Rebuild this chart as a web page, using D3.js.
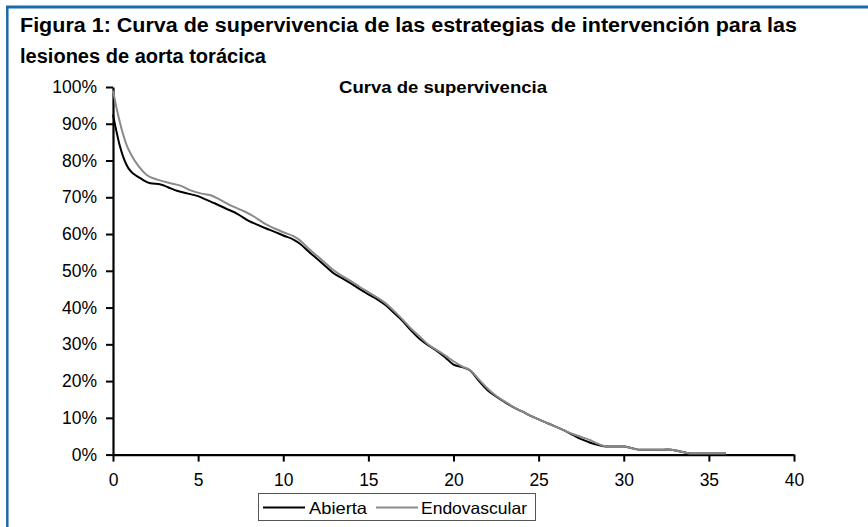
<!DOCTYPE html>
<html>
<head>
<meta charset="utf-8">
<script src="https://cdn.jsdelivr.net/npm/d3@7"></script>
<style>
  html, body { margin: 0; padding: 0; background: #fff; }
  svg { display: block; }
  text { font-family: "Liberation Sans", Arial, sans-serif; fill: #000; }
</style>
</head>
<body>
<svg id="chart" width="868" height="527"></svg>
<script>
// ---- Data ----
const titleLines = ["Figura 1: Curva de supervivencia de las estrategias de intervención para las", "lesiones de aorta torácica"];
const chartTitle = "Curva de supervivencia";
const seriesNames = ["Abierta", "Endovascular"];
const xTicks = [0, 5, 10, 15, 20, 25, 30, 35, 40];
const yTicks = [0, 10, 20, 30, 40, 50, 60, 70, 80, 90, 100];

const abiertaT = [0, 0.2, 0.4, 0.6, 0.8, 1.0, 1.2, 1.5, 1.8, 2.2, 2.8, 3.2, 3.8, 4.4, 5.0, 5.5, 6.0, 6.7, 7.3, 8.0, 8.5, 9.0, 9.5, 10.0, 10.6, 11.0, 11.5, 12.0, 12.5, 13.0, 13.5, 14.0, 14.5, 15.0, 15.5, 16.0, 16.5, 17.0, 17.5, 18.0, 18.5, 19.0, 19.5, 20.0, 20.5, 21.0, 21.5, 22.0, 22.5, 23.0, 23.5, 24.0, 24.5, 25.0, 25.5, 26.0, 26.5, 27.0, 27.5, 28.0, 28.5, 29.0, 29.5, 30.0, 30.5, 31.0, 32.0, 32.6, 33.2, 33.9, 36.0];
const abiertaV = [92.5, 88, 84, 81, 78.8, 77.3, 76.4, 75.5, 74.6, 73.8, 73.5, 72.8, 71.7, 71.0, 70.3, 69.3, 68.3, 66.8, 65.5, 63.5, 62.5, 61.5, 60.6, 59.6, 58.5, 57.3, 55.2, 53.2, 51.2, 49.2, 47.9, 46.5, 45.0, 43.6, 42.3, 40.7, 38.6, 36.4, 33.8, 31.5, 29.8, 28.3, 26.5, 24.5, 23.8, 22.8, 20.0, 17.5, 15.8, 14.3, 12.9, 11.8, 10.6, 9.6, 8.6, 7.6, 6.6, 5.4, 4.2, 3.3, 2.6, 2.2, 2.2, 2.2, 1.7, 1.3, 1.3, 1.4, 1.0, 0.3, 0.3];

const endoT = [0, 0.2, 0.4, 0.6, 0.8, 1.1, 1.5, 2.0, 2.6, 3.5, 4.0, 4.6, 5.2, 5.7, 6.3, 7.0, 7.7, 8.3, 9.0, 9.5, 10.0, 10.6, 11.0, 11.5, 12.0, 12.5, 13.0, 13.5, 14.0, 14.5, 15.0, 15.5, 16.0, 16.5, 17.0, 17.5, 18.0, 18.5, 19.0, 19.5, 20.0, 20.5, 21.0, 21.5, 22.0, 22.5, 23.0, 23.5, 24.0, 24.5, 25.0, 25.5, 26.0, 26.5, 27.0, 27.5, 28.0, 28.5, 29.0, 29.5, 30.0, 30.5, 31.0, 32.0, 32.6, 33.2, 33.9, 36.0];
const endoV = [99, 94.5, 90.5, 87, 84.2, 81.3, 78.5, 76.0, 74.8, 73.7, 73.1, 71.8, 71.0, 70.6, 69.3, 67.6, 66.2, 64.7, 62.6, 61.5, 60.5, 59.4, 58.2, 56.0, 54.0, 52.0, 50.0, 48.5, 47.1, 45.6, 44.2, 42.8, 41.2, 39.1, 36.8, 34.3, 32.2, 30.0, 28.5, 27.0, 25.4, 24.0, 22.9, 20.4, 18.0, 16.0, 14.5, 13.0, 11.8, 10.6, 9.6, 8.6, 7.6, 6.6, 5.6, 4.8, 4.0, 2.9, 2.2, 2.2, 2.2, 1.7, 1.3, 1.3, 1.4, 1.0, 0.3, 0.3];

const seriesColors = ["#000000", "#8a8a8a"];

// ---- Drawing ----
const svg = d3.select("#chart");

// frame
svg.append("line").attr("x1", 6).attr("x2", 868).attr("y1", 7).attr("y2", 7)
  .attr("stroke", "#1a6aaa").attr("stroke-width", 3);
svg.append("line").attr("x1", 7.3).attr("x2", 7.3).attr("y1", 6).attr("y2", 527)
  .attr("stroke", "#1a6aaa").attr("stroke-width", 2.5);

// titles
svg.append("text").attr("x", 20).attr("y", 32).attr("font-weight", "bold").attr("font-size", 19.5)
  .attr("textLength", 777).attr("lengthAdjust", "spacingAndGlyphs").attr("fill", "#222").text(titleLines[0]);
svg.append("text").attr("x", 20).attr("y", 63).attr("font-weight", "bold").attr("font-size", 19.5)
  .attr("textLength", 246).attr("lengthAdjust", "spacingAndGlyphs").attr("fill", "#222").text(titleLines[1]);

const x = d3.scaleLinear().domain([0, 40]).range([113, 794]);
const y = d3.scaleLinear().domain([0, 100]).range([454.6, 87]);

svg.append("text").attr("x", 339).attr("y", 93).attr("font-weight", "bold").attr("font-size", 17)
  .attr("textLength", 208).attr("lengthAdjust", "spacingAndGlyphs").text(chartTitle);

// axes
const xAxis = svg.append("g").attr("transform", `translate(0,${y(0)})`)
  .call(d3.axisBottom(x).tickValues(xTicks).tickSize(7).tickSizeOuter(0).tickPadding(12));
const yAxis = svg.append("g").attr("transform", `translate(${x(0)},0)`)
  .call(d3.axisLeft(y).tickValues(yTicks).tickSize(7).tickSizeOuter(0).tickPadding(9).tickFormat(d => d + "%"));
[xAxis, yAxis].forEach(g => {
  g.select(".domain").attr("stroke", "#000").attr("stroke-width", 2.2);
  g.selectAll(".tick line").attr("stroke", "#000").attr("stroke-width", 2);
  g.selectAll(".tick text").attr("font-size", 17.5).attr("fill", "#000")
    .style("font-family", "'Liberation Sans', Arial, sans-serif");
});

// lines
const line = d3.line().x(d => x(d[0])).y(d => y(d[1])).curve(d3.curveMonotoneX);
const series = [
  d3.zip(abiertaT, abiertaV),
  d3.zip(endoT, endoV)
];
series.forEach((s, i) => {
  svg.append("path").datum(s).attr("d", line).attr("fill", "none")
    .attr("stroke", seriesColors[i]).attr("stroke-width", 2).attr("stroke-linejoin", "round");
});

// legend
const lg = svg.append("g");
lg.append("rect").attr("x", 258.5).attr("y", 493.5).attr("width", 277).attr("height", 27)
  .attr("fill", "#fff").attr("stroke", "#555").attr("stroke-width", 1);
const legendItems = [
  { name: seriesNames[0], color: seriesColors[0], x1: 263, x2: 305, tx: 309, tl: 58 },
  { name: seriesNames[1], color: seriesColors[1], x1: 376, x2: 418, tx: 421, tl: 106 }
];
legendItems.forEach(it => {
  lg.append("line").attr("x1", it.x1).attr("x2", it.x2).attr("y1", 507.5).attr("y2", 507.5)
    .attr("stroke", it.color).attr("stroke-width", 2);
  lg.append("text").attr("x", it.tx).attr("y", 513.5).attr("font-size", 16.5)
    .attr("textLength", it.tl).attr("lengthAdjust", "spacingAndGlyphs").text(it.name);
});
</script>
</body>
</html>
